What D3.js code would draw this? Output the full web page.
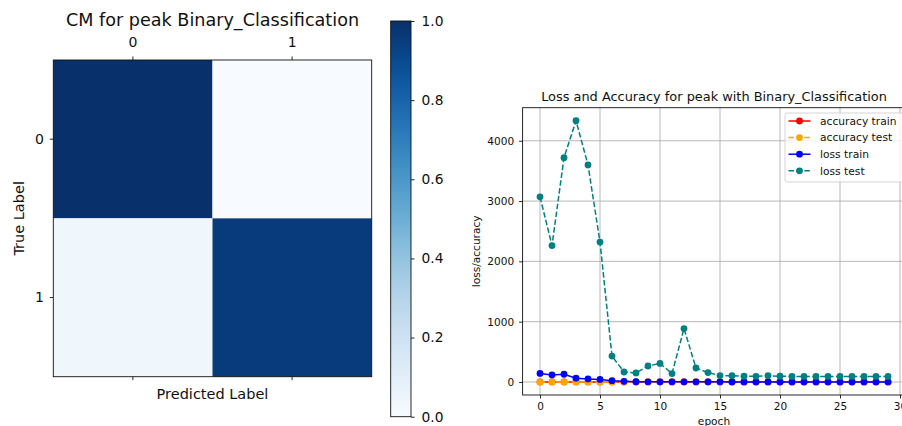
<!DOCTYPE html>
<html>
<head>
<meta charset="utf-8">
<script src="https://cdn.jsdelivr.net/npm/d3@7"></script>
<style>
    body { margin: 0; background: #fff; }
    svg { display: block; }
    text { font-family: "DejaVu Sans", sans-serif; fill: #111; }
</style>
</head>
<body>
<svg id="chart" width="902" height="426"></svg>
<script>

//confusion matrix data
const cmLabels = ["0", "1"];
const cmValues = [[1.00, 0.00], [0.04, 0.96]];
const colorbarTicks = [0, 0.2, 0.4, 0.6, 0.8, 1.0];

//training history data
const epochs = [0, 1, 2, 3, 4, 5, 6, 7, 8, 9, 10, 11, 12, 13, 14, 15, 16, 17, 18, 19, 20, 21, 22, 23, 24, 25, 26, 27, 28, 29];
const accuracyTrain = [0.52, 0.55, 0.58, 0.61, 0.66, 0.70, 0.74, 0.78, 0.81, 0.84, 0.86, 0.88, 0.89, 0.90, 0.91, 0.92, 0.93, 0.93, 0.94, 0.94, 0.95, 0.95, 0.95, 0.96, 0.96, 0.96, 0.97, 0.97, 0.97, 0.97];
const accuracyTest = [0.50, 0.54, 0.60, 0.63, 0.67, 0.71, 0.76, 0.80, 0.82, 0.85, 0.87, 0.88, 0.86, 0.90, 0.91, 0.92, 0.93, 0.93, 0.94, 0.94, 0.95, 0.95, 0.95, 0.96, 0.96, 0.96, 0.96, 0.97, 0.97, 0.97];
const lossTrain = [142, 117, 128, 63, 50, 42, 22, 11, 4, 3, 3, 2, 2, 2, 2, 2, 1, 1, 1, 1, 1, 1, 1, 1, 1, 1, 1, 1, 1, 1];
const lossTest = [3070, 2262, 3720, 4332, 3600, 2320, 430, 165, 150, 265, 308, 140, 885, 232, 156, 106, 104, 95, 94, 104, 95, 92, 92, 92, 92, 92, 92, 92, 92, 92];
const xTicks = [0, 5, 10, 15, 20, 25, 30];
const yTicks = [0, 1000, 2000, 3000, 4000];

const series = [
    { name: "accuracy train", values: accuracyTrain, color: "#ff0000", dash: null },
    { name: "accuracy test", values: accuracyTest, color: "#ffa500", dash: "5.5,2.4" },
    { name: "loss train", values: lossTrain, color: "#0000ff", dash: null },
    { name: "loss test", values: lossTest, color: "#008080", dash: "5.5,2.4" }
];

const svg = d3.select("#chart");
const blues = d3.interpolateBlues;

//to draw the confusion matrix
function drawMatrix() {
    const left = 53.3, right = 371.7, top = 60, bottom = 376.7;
    const x = d3.scaleBand().domain(cmLabels).range([left, right]);
    const y = d3.scaleBand().domain(cmLabels).range([top, bottom]);
    const g = svg.append("g");

    cmValues.forEach((row, i) => {
        row.forEach((v, j) => {
            g.append("rect")
                .attr("x", x(cmLabels[j]))
                .attr("y", y(cmLabels[i]))
                .attr("width", x.bandwidth())
                .attr("height", y.bandwidth())
                .attr("fill", blues(v));
        });
    });

    g.append("rect")
        .attr("x", left).attr("y", top)
        .attr("width", right - left).attr("height", bottom - top)
        .attr("fill", "none").attr("stroke", "#111").attr("stroke-width", 0.9);

    //top ticks with labels
    const topAxis = g.append("g")
        .attr("transform", `translate(0,${top})`)
        .call(d3.axisTop(x).tickSize(3.5).tickPadding(10));
    //bottom ticks only
    const bottomAxis = g.append("g")
        .attr("transform", `translate(0,${bottom})`)
        .call(d3.axisBottom(x).tickSize(3.5).tickFormat(""));
    const leftAxis = g.append("g")
        .attr("transform", `translate(${left},0)`)
        .call(d3.axisLeft(y).tickSize(3.5).tickPadding(6));

    [topAxis, bottomAxis, leftAxis].forEach(a => {
        a.select(".domain").remove();
        a.selectAll("line").attr("stroke", "#111").attr("stroke-width", 0.9);
        a.selectAll("text").style("font-size", "14px").attr("fill", "#111");
    });

    g.append("text")
        .attr("x", (left + right) / 2).attr("y", 25.5)
        .attr("text-anchor", "middle")
        .style("font-size", "17.6px")
        .text("CM for peak Binary_Classification");

    g.append("text")
        .attr("x", (left + right) / 2).attr("y", 399)
        .attr("text-anchor", "middle")
        .style("font-size", "14.5px")
        .text("Predicted Label");

    g.append("text")
        .attr("transform", `translate(24,${(top + bottom) / 2}) rotate(-90)`)
        .attr("text-anchor", "middle")
        .style("font-size", "14.5px")
        .text("True Label");
}

//to draw the colorbar next to the matrix
function drawColorbar() {
    const left = 390.7, width = 20.3, top = 21, bottom = 416.7;
    const y = d3.scaleLinear().domain([0, 1]).range([bottom, top]);

    const grad = svg.append("defs").append("linearGradient")
        .attr("id", "cbar")
        .attr("x1", 0).attr("y1", 1).attr("x2", 0).attr("y2", 0);
    d3.range(0, 1.0001, 0.05).forEach(t => {
        grad.append("stop").attr("offset", t).attr("stop-color", blues(t));
    });

    svg.append("rect")
        .attr("x", left).attr("y", top)
        .attr("width", width).attr("height", bottom - top)
        .attr("fill", "url(#cbar)")
        .attr("stroke", "#111").attr("stroke-width", 0.9);

    const axis = svg.append("g")
        .attr("transform", `translate(${left + width},0)`)
        .call(d3.axisRight(y).tickValues(colorbarTicks).tickFormat(d3.format(".1f")).tickSize(3.5).tickPadding(7));
    axis.select(".domain").remove();
    axis.selectAll("line").attr("stroke", "#111").attr("stroke-width", 0.9);
    axis.selectAll("text").style("font-size", "13.8px").attr("fill", "#111");
}

//to draw the loss / accuracy history
function drawHistory() {
    const left = 522.6, right = 905.4, top = 107.7, bottom = 395;

    const xMin = d3.min(epochs), xMax = d3.max(epochs);
    const xPad = (xMax - xMin) * 0.05;
    const all = series.flatMap(s => s.values);
    const yMin = d3.min(all), yMax = d3.max(all);
    const yPad = (yMax - yMin) * 0.05;

    const x = d3.scaleLinear().domain([xMin - xPad, xMax + xPad]).range([left, right]);
    const y = d3.scaleLinear().domain([yMin - yPad, yMax + yPad]).range([bottom, top]);
    const g = svg.append("g");

    //grid lines
    g.append("g").selectAll("line").data(xTicks).join("line")
        .attr("x1", d => x(d)).attr("x2", d => x(d))
        .attr("y1", top).attr("y2", bottom)
        .attr("stroke", "#b0b0b0").attr("stroke-width", 0.9);
    g.append("g").selectAll("line").data(yTicks).join("line")
        .attr("x1", left).attr("x2", right)
        .attr("y1", d => y(d)).attr("y2", d => y(d))
        .attr("stroke", "#b0b0b0").attr("stroke-width", 0.9);

    const line = d3.line().x((d, i) => x(epochs[i])).y(d => y(d));

    series.forEach(s => {
        g.append("path")
            .datum(s.values)
            .attr("d", line)
            .attr("fill", "none")
            .attr("stroke", s.color)
            .attr("stroke-width", 1.5)
            .attr("stroke-dasharray", s.dash);
        g.append("g").selectAll("circle").data(s.values).join("circle")
            .attr("cx", (d, i) => x(epochs[i]))
            .attr("cy", d => y(d))
            .attr("r", 3.4)
            .attr("fill", s.color);
    });

    g.append("rect")
        .attr("x", left).attr("y", top)
        .attr("width", right - left).attr("height", bottom - top)
        .attr("fill", "none").attr("stroke", "#111").attr("stroke-width", 0.9);

    const xAxis = g.append("g")
        .attr("transform", `translate(0,${bottom})`)
        .call(d3.axisBottom(x).tickValues(xTicks).tickSize(3.5).tickPadding(4));
    const yAxis = g.append("g")
        .attr("transform", `translate(${left},0)`)
        .call(d3.axisLeft(y).tickValues(yTicks).tickFormat(d3.format("d")).tickSize(3.5).tickPadding(5));
    [xAxis, yAxis].forEach(a => {
        a.select(".domain").remove();
        a.selectAll("line").attr("stroke", "#111").attr("stroke-width", 0.9);
        a.selectAll("text").style("font-size", "10.5px").attr("fill", "#111");
    });

    g.append("text")
        .attr("x", (left + right) / 2).attr("y", 101)
        .attr("text-anchor", "middle")
        .style("font-size", "12.9px")
        .text("Loss and Accuracy for peak with Binary_Classification");

    g.append("text")
        .attr("x", (left + right) / 2).attr("y", 425)
        .attr("text-anchor", "middle")
        .style("font-size", "10.6px")
        .text("epoch");

    g.append("text")
        .attr("transform", `translate(480,${(top + bottom) / 2}) rotate(-90)`)
        .attr("text-anchor", "middle")
        .style("font-size", "10.6px")
        .text("loss/accuracy");

    //legend in the upper right corner
    const lg = g.append("g").attr("transform", "translate(785,113)");
    lg.append("rect")
        .attr("width", 130).attr("height", 69)
        .attr("rx", 2.5)
        .attr("fill", "#fff").attr("fill-opacity", 0.8)
        .attr("stroke", "#d0d0d0").attr("stroke-width", 0.9);
    series.forEach((s, i) => {
        const ly = 8 + i * 16.6;
        lg.append("line")
            .attr("x1", 3.5).attr("x2", 25.5)
            .attr("y1", ly).attr("y2", ly)
            .attr("stroke", s.color).attr("stroke-width", 1.5)
            .attr("stroke-dasharray", s.dash);
        lg.append("circle")
            .attr("cx", 14.5).attr("cy", ly).attr("r", 3.4)
            .attr("fill", s.color);
        lg.append("text")
            .attr("x", 35).attr("y", ly).attr("dy", "0.35em")
            .style("font-size", "10.7px")
            .text(s.name);
    });
}

drawMatrix();
drawColorbar();
drawHistory();

</script>
</body>
</html>
